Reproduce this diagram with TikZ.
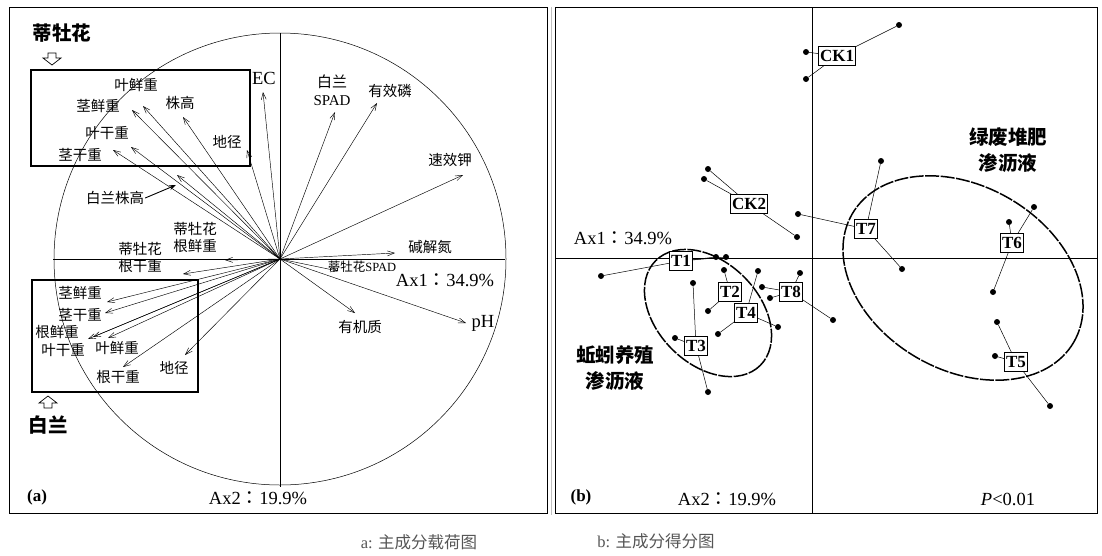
\documentclass[tikz,border=0pt]{standalone}
\usepackage{fontspec}
\setmainfont{Liberation Serif}
\newfontfamily\cjk{Noto Sans CJK SC}
\newfontfamily\cjkp{Noto Sans CJK TC}
\usetikzlibrary{arrows.meta,positioning}
\definecolor{capgray}{RGB}{85,85,85}
\newcommand{\fwc}{{\cjkp ：}}
\tikzset{
  vec/.style={line width=0.45pt,-{Straight Barb[length=7pt,width=5pt]}},
  zh/.style={font=\cjk\fontsize{14.5}{17}\selectfont,inner sep=1pt,align=center},
  zhbig/.style={font=\cjk\bfseries\fontsize{19.5}{26}\selectfont,inner sep=1pt,align=center},
  lat/.style={font=\fontsize{18.5}{20}\selectfont,inner sep=1pt},
  tag/.style={draw,fill=white,line width=0.8pt,inner sep=1.3pt,minimum height=18.5pt,font=\bfseries\fontsize{17}{17}\selectfont},
  dot/.style={circle,fill,inner sep=0pt,minimum size=6pt},
  link/.style={line width=0.5pt},
  grp/.style={line width=1.5pt,dash pattern=on 14pt off 1.5pt},
}
\begin{document}
\begin{tikzpicture}[x=1pt,y=-1pt]
\useasboundingbox(0,0)rectangle(1102,555);
% (a) loadings
\draw[line width=0.9pt](9,7)rectangle(547,513);
\coordinate(O)at(280,259);
\draw[line width=0.5pt](O)circle[radius=226];
\draw[line width=0.7pt](280,33)--(280,487);
\draw[line width=0.7pt](53,259)--(505,259);
\draw[line width=1.6pt](31,70)rectangle(250,166);
\draw[line width=1.6pt](32,280)rectangle(198,392);
\foreach \n/\x/\y in {yxz/143/106,jxz/132/110,zg/183/117,dj/247/150,ygz/131/147,jgz/113/150,
  blzg/177/175,ec/263/92,bspad/335/112,yxl/377/103,sxj/463/175,jjd/395/253,dspad/338/271,
  ph/466/323,yjz/355/313,dgxz/225/260,dggz/183/274,bjxz/107/302,bjgz/105/313,bgxz/88/339,
  bygz/93/337,byxz/108/338,bggz/123/367,bdj/185/355}
  {\coordinate(\n)at(\x,\y);\draw[vec](O)--(\n);}
\node[zhbig](dmh)at(62,33){蒂牡花};
\draw[line width=0.7pt](48,53)--(56,53)--(56,58)--(61,58)--(52,65)--(43,58)--(48,58)--cycle;
\node[zh](yxzl)at(136,85){叶鲜重};
\node[zh](jxzl)at(98,106){茎鲜重};
\node[zh](zgl)at(180,103){株高};
\node[zh](ygzl)at(107,133){叶干重};
\node[zh](jgzl)at(80,155){茎干重};
\node[zh](djl)at(227,142){地径};
\node[lat](ecl)at(264,78){EC};
\node[zh,font=\fontsize{15}{18}\selectfont](bspadl)at(332,90){{\cjk 白兰}\\SPAD};
\node[zh](yxll)at(390,91){有效磷};
\node[zh](sxjl)at(450,160){速效钾};
\node[zh](jjdl)at(430,247){碱解氮};
\node[inner sep=1pt,font=\fontsize{12.5}{13}\selectfont](dspadl)at(362,267){{\cjk 蒂牡花}SPAD};
\node[lat](ax1a)at(445,280){Ax1\fwc34.9\%};
\node[zh](yjzl)at(360,327){有机质};
\node[lat](phl)at(483,323){pH};
\node[zh](blzgl)at(115,198){白兰株高};
\draw[line width=0.9pt,-{Stealth[length=7pt,width=5pt]}](blzgl.east)--(176,185);
\node[zh](dgxzl)at(195,238){蒂牡花\\根鲜重};
\node[zh](dggzl)at(140,257){蒂牡花\\根干重};
\node[zh](bjxzl)at(80,293){茎鲜重};
\node[zh](bjgzl)at(80,315){茎干重};
\node[zh](bgxzl)at(57,332){根鲜重};
\node[zh](bygzl)at(63,350){叶干重};
\node[zh](byxzl)at(117,348){叶鲜重};
\node[zh](bdjl)at(174,368){地径};
\node[zh](bggzl)at(118,377){根干重};
\draw[line width=0.7pt](44,408)--(52,408)--(52,403)--(57,403)--(48,396)--(39,403)--(44,403)--cycle;
\node[zhbig](bl)at(48,425){白兰};
\node[font=\bfseries\fontsize{17}{17}\selectfont](pa)at(37,497){(a)};
\node[lat](ax2a)at(258,498){Ax2\fwc19.9\%};
% (b) scores
\draw[gray!50,line width=0.8pt](551,7)--(551,515);
\draw[line width=0.9pt](555,7)rectangle(1097,513);
\draw[line width=0.7pt](812,7)--(812,513);
\draw[line width=0.7pt](555,258)--(1097,258);
\draw[grp,rotate around={-45:(708,313)}](708,313)ellipse[x radius=74,y radius=51];
\draw[grp,rotate around={-30:(963,278)}](963,278)ellipse[x radius=128,y radius=92];
\node[tag](ck1)at(837,56){CK1};
\node[tag](ck2)at(749,204){CK2};
\node[tag](t1)at(681,261){T1};
\node[tag](t2)at(730,292){T2};
\node[tag](t3)at(696,346){T3};
\node[tag](t4)at(746,313){T4};
\node[tag](t5)at(1016,362){T5};
\node[tag](t6)at(1012,243){T6};
\node[tag](t7)at(866,229){T7};
\node[tag](t8)at(791,292){T8};
\foreach \b/\p/\x/\y in {ck1/ck1a/806/52,ck1/ck1b/806/79,ck1/ck1c/899/25,
  ck2/ck2a/708/169,ck2/ck2b/704/179,ck2/ck2c/797/237,
  t7/t7a/881/161,t7/t7b/798/214,t7/t7c/902/269,
  t6/t6a/1009/222,t6/t6b/1034/207,t6/t6c/993/292,
  t5/t5a/997/322,t5/t5b/995/356,t5/t5c/1050/406,
  t1/t1a/601/276,t1/t1b/716/257,t1/t1c/726/257,
  t2/t2a/724/270,t2/t2b/708/311,
  t4/t4a/758/271,t4/t4b/718/334,t4/t4c/778/327,
  t8/t8a/800/273,t8/t8b/762/287,t8/t8c/770/298,t8/t8d/833/320,
  t3/t3a/693/283,t3/t3b/675/338,t3/t3c/708/392}
  {\node[dot](\p)at(\x,\y){};\draw[link](\b)--(\p);}
\node[zhbig](lf)at(1008,150){绿废堆肥\\渗沥液};
\node[zhbig](qy)at(615,368){蚯蚓养殖\\渗沥液};
\node[lat](ax1b)at(623,238){Ax1\fwc34.9\%};
\node[font=\bfseries\fontsize{17}{17}\selectfont](pb)at(581,497){(b)};
\node[lat](ax2b)at(727,499){Ax2\fwc19.9\%};
\node[lat](pv)at(1008,499){\textit{P}<0.01};
% captions
\node[font=\fontsize{16.5}{17}\selectfont,text=capgray](capa)at(419,542){a: {\cjk 主成分载荷图}};
\node[font=\fontsize{16.5}{17}\selectfont,text=capgray](capb)at(656,541){b: {\cjk 主成分得分图}};
\end{tikzpicture}
\end{document}
